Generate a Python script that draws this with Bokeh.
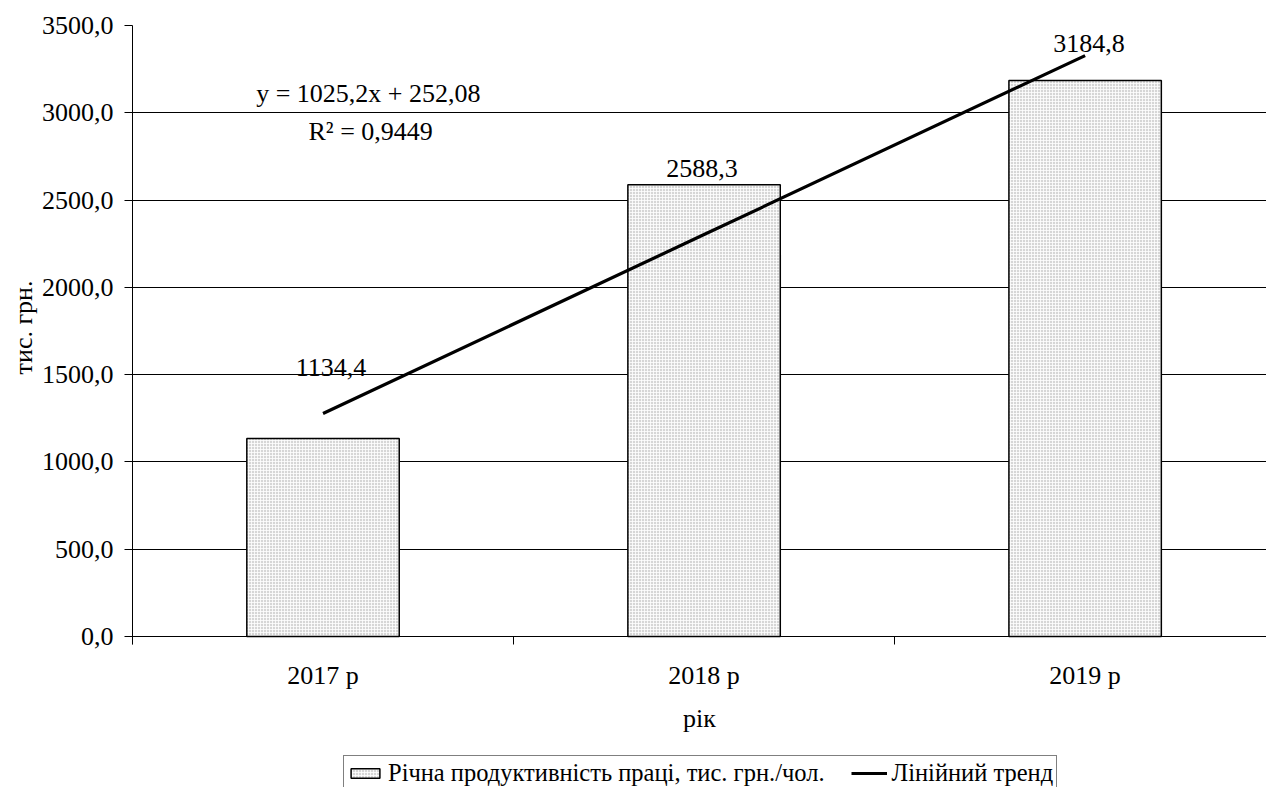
from bokeh.plotting import figure
from bokeh.models import Range1d, FixedTicker, Label, Legend, LegendItem, Title
from bokeh.embed import file_html
from bokeh.resources import INLINE

# ---- data ----
years = ["2017 р", "2018 р", "2019 р"]
productivity = [1134.4, 2588.3, 3184.8]
productivity_labels = ["1134,4", "2588,3", "3184,8"]
trend_values = [1277.3, 2302.5, 3327.7]
y_ticks = [0, 500, 1000, 1500, 2000, 2500, 3000, 3500]
y_tick_labels = ["0,0", "500,0", "1000,0", "1500,0", "2000,0", "2500,0", "3000,0", "3500,0"]
equation_text = "y = 1025,2x + 252,08"
r2_text = "R² = 0,9449"
series_name = "Річна продуктивність праці, тис. грн./чол."
trend_name = "Лінійний тренд"
x_title = "рік"
y_title = "тис. грн."

FONT = "Liberation Serif"

positions = [i + 0.5 for i in range(len(years))]
boundaries = [float(i) for i in range(len(years) + 1)]

# frame spans to the bottom of the canvas; the x axis sits at y = 0
p = figure(width=1266, height=787, output_backend="svg", toolbar_location=None,
           x_range=Range1d(0, 2.976), y_range=Range1d(-865, 3500),
           min_border_left=132, min_border_right=0, min_border_top=25, min_border_bottom=0,
           background_fill_color="white", border_fill_color="white")
p.outline_line_color = None

# grid
p.xgrid.visible = False
p.ygrid.grid_line_color = "black"
p.ygrid.grid_line_width = 1

# x axis
p.xaxis.fixed_location = 0
p.xaxis.ticker = FixedTicker(ticks=positions, minor_ticks=boundaries)
p.xaxis.major_label_overrides = {pos: lab for pos, lab in zip(positions, years)}
p.xaxis.major_tick_out = 0
p.xaxis.major_tick_in = 0
p.xaxis.minor_tick_out = 8
p.xaxis.minor_tick_in = 0
p.xaxis.minor_tick_line_color = "black"
p.xaxis.axis_line_color = "black"
p.xaxis.major_label_standoff = 17
p.xaxis.major_label_text_font = FONT
p.xaxis.major_label_text_font_size = "26px"
p.xaxis.major_label_text_color = "black"
p.xaxis.axis_label = x_title
p.xaxis.axis_label_text_font = FONT
p.xaxis.axis_label_text_font_size = "26px"
p.xaxis.axis_label_text_font_style = "normal"
p.xaxis.axis_label_text_color = "black"
p.xaxis.axis_label_standoff = 10

# y axis
p.yaxis.ticker = FixedTicker(ticks=y_ticks, minor_ticks=[])
p.yaxis.bounds = (-46, 3500)
p.yaxis.major_label_overrides = {t: lab for t, lab in zip(y_ticks, y_tick_labels)}
p.yaxis.major_tick_out = 8
p.yaxis.major_tick_in = 0
p.yaxis.major_tick_line_color = "black"
p.yaxis.axis_line_color = "black"
p.yaxis.major_label_standoff = 11
p.yaxis.major_label_text_font = FONT
p.yaxis.major_label_text_font_size = "26px"
p.yaxis.major_label_text_color = "black"

# y axis title, centred on the 0..3500 part of the frame
p.add_layout(Title(text=y_title, align="right", offset=255, standoff=0,
                   text_font=FONT, text_font_size="26px", text_font_style="normal",
                   text_color="black", vertical_align="middle"), "left")

# bars
bars = p.vbar(x=positions, top=productivity, width=0.4,
              fill_color="#d6d6d6", hatch_pattern="+", hatch_color="white",
              hatch_scale=3, hatch_weight=1, hatch_alpha=0.8,
              line_color="black", line_width=1.5)

# trend line
trend = p.line(positions, trend_values, line_color="black", line_width=3.2)

# data labels
x_offs = [8, -2, 4]
y_offs = [71, 16, 37]
for pos, val, lab, xo, yo in zip(positions, productivity, productivity_labels, x_offs, y_offs):
    p.add_layout(Label(x=pos, y=val, text=lab, x_offset=xo, y_offset=yo,
                       text_align="center", text_baseline="alphabetic",
                       text_font=FONT, text_font_size="26px", text_color="black"))

# equation
p.add_layout(Label(x=0.619, y=3110, text=equation_text, text_align="center",
                   text_baseline="alphabetic", text_font=FONT, text_font_size="26px",
                   text_color="black"))
p.add_layout(Label(x=0.625, y=2893, text=r2_text, text_align="center",
                   text_baseline="alphabetic", text_font=FONT, text_font_size="26px",
                   text_color="black"))

# legend
legend = Legend(items=[LegendItem(label=series_name, renderers=[bars]),
                       LegendItem(label=trend_name, renderers=[trend])],
                orientation="horizontal", location=(211, -4),
                label_text_font=FONT, label_text_font_size="24.5px", label_text_color="black",
                glyph_width=36, glyph_height=12, label_standoff=5, spacing=26,
                padding=3, margin=0, border_line_color="black", border_line_width=1,
                background_fill_alpha=1.0)
p.add_layout(legend, "center")

open("out.html", "w").write(file_html(p, INLINE))
